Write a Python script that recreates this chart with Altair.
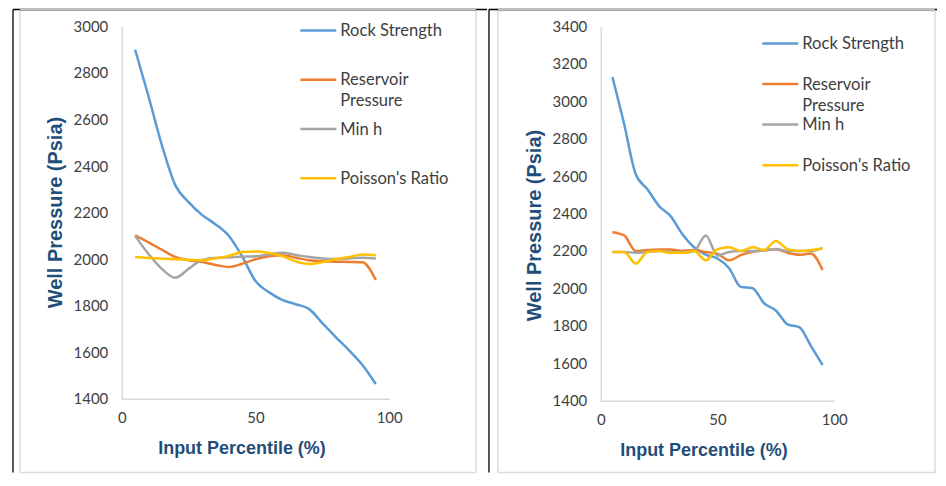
import altair as alt
import pandas as pd

# ---------------- data ----------------
percentile = [5, 10, 15, 20, 25, 30, 35, 40, 45, 50, 55, 60, 65, 70, 75, 80, 85, 90, 95]
series_names = ["Rock Strength", "Reservoir Pressure", "Min h", "Poisson's Ratio"]
legend_labels = ["Rock Strength", "Reservoir\nPressure", "Min h", "Poisson's Ratio"]
series_colors = ["#5B9BD5", "#ED7D31", "#A5A5A5", "#FFC000"]

# left chart
rock_left = [2900, 2700, 2490, 2318, 2245, 2190, 2150, 2100, 2012, 1906, 1858, 1825, 1806, 1786, 1725, 1665, 1608, 1545, 1463]
reservoir_left = [2102, 2072, 2040, 2009, 1995, 1987, 1975, 1966, 1980, 1999, 2012, 2017, 2006, 1995, 1991, 1989, 1988, 1986, 1910]
minh_left = [2100, 2022, 1958, 1920, 1958, 1996, 2005, 2007, 2010, 2012, 2020, 2027, 2018, 2009, 2003, 2000, 2003, 2006, 2003]
poisson_left = [2009, 2005, 2002, 1999, 1997, 1995, 2003, 2013, 2030, 2033, 2026, 2013, 1990, 1979, 1987, 1999, 2009, 2020, 2017]

# right chart
rock_right = [3130, 2880, 2610, 2530, 2440, 2385, 2290, 2220, 2180, 2160, 2108, 2008, 2001, 1920, 1882, 1808, 1793, 1693, 1590]
reservoir_right = [2300, 2283, 2200, 2205, 2208, 2208, 2200, 2205, 2195, 2185, 2150, 2178, 2196, 2203, 2209, 2190, 2180, 2186, 2098]
minh_right = [2195, 2195, 2190, 2195, 2200, 2195, 2190, 2200, 2283, 2175, 2195, 2200, 2200, 2205, 2210, 2200, 2200, 2200, 2215]
poisson_right = [2195, 2195, 2132, 2195, 2200, 2190, 2190, 2200, 2150, 2210, 2220, 2200, 2220, 2205, 2253, 2210, 2200, 2205, 2215]

x_ticks = [0, 50, 100]
y_ticks_left = [1400, 1600, 1800, 2000, 2200, 2400, 2600, 2800, 3000]
y_ticks_right = [1400, 1600, 1800, 2000, 2200, 2400, 2600, 2800, 3000, 3200, 3400]

x_title = "Input Percentile (%)"
y_title = "Well Pressure (Psia)"

FONT = "Lato"
TITLE_FONT = "Liberation Sans"
TEXT_COLOR = "#404040"


def long_df(series_lists):
    rows = []
    for name, vals in zip(series_names, series_lists):
        for p, v in zip(percentile, vals):
            rows.append({"percentile": p, "pressure": v, "series": name})
    return pd.DataFrame(rows)


color_scale = alt.Scale(domain=series_names, range=series_colors)
legend_df = pd.DataFrame({"series": series_names, "label": legend_labels})
deco_df = pd.DataFrame({"k": [0]})


def panel(df, ydom, yticks, w, h, leg_y, leg_x, title_x, ytitle_y, deco):
    lines = alt.Chart(df).mark_line(interpolate="monotone", strokeWidth=2.5).encode(
        x=alt.X("percentile:Q",
                scale=alt.Scale(domain=[0, 100], nice=False),
                axis=alt.Axis(values=x_ticks, title=x_title, labelFlush=False, format="d",
                              labelPadding=12, titleX=title_x, titleY=50,
                              titleBaseline="middle", titleFontSize=18)),
        y=alt.Y("pressure:Q",
                scale=alt.Scale(domain=ydom, nice=False, zero=False),
                axis=alt.Axis(values=yticks, title=y_title, labelPadding=14, format="d",
                              titleX=-66, titleY=ytitle_y, titleBaseline="middle",
                              titleFontSize=20)),
        color=alt.Color("series:N", scale=color_scale, legend=None),
    )
    ypos = alt.Y("series:N", axis=None,
                 scale=alt.Scale(type="point", domain=series_names,
                                 range=leg_y, padding=0))
    leg_rule = alt.Chart(legend_df).mark_rule(strokeWidth=2.5).encode(
        x=alt.value(leg_x[0]), x2=alt.value(leg_x[1]), y=ypos,
        color=alt.Color("series:N", scale=color_scale, legend=None),
    )
    leg_text = alt.Chart(legend_df).mark_text(
        align="left", baseline="alphabetic", dy=5.8, lineBreak="\n",
        lineHeight=21, font=FONT, fontSize=16.6, color=TEXT_COLOR,
    ).encode(x=alt.value(leg_x[1] + 4), y=ypos, text="label:N")

    bx, bx2, fx, fx2, top, bottom = deco
    frame = alt.Chart(deco_df).mark_rect(
        fillOpacity=0, stroke="#dcdcdc", strokeWidth=1.5
    ).encode(x=alt.value(fx), x2=alt.value(fx2), y=alt.value(top + 1), y2=alt.value(bottom))
    black_top = alt.Chart(deco_df).mark_rule(color="black", strokeWidth=1.3).encode(
        x=alt.value(bx), x2=alt.value(bx2), y=alt.value(top))
    gray_top = alt.Chart(deco_df).mark_rule(color="#bdbdbd", strokeWidth=1.5).encode(
        x=alt.value(fx), x2=alt.value(fx2), y=alt.value(top))
    black_side = alt.Chart(deco_df).mark_rule(color="black", strokeWidth=1.3).encode(
        x=alt.value(bx), y=alt.value(top), y2=alt.value(bottom))

    return alt.layer(frame, black_top, gray_top, black_side, lines, leg_rule, leg_text).resolve_scale(
        y="independent"
    ).properties(width=w, height=h)


left = panel(
    long_df([rock_left, reservoir_left, minh_left, poisson_left]),
    [1400, 3000], y_ticks_left, 268, 373,
    [4, 152], [179, 215], 120, 186,
    (-109, 366, -102, 355, -17, 447),
)
right = panel(
    long_df([rock_right, reservoir_right, minh_right, poisson_right]),
    [1400, 3400], y_ticks_right, 234, 375,
    [17, 139], [162, 198], 103, 199,
    (-112, 337, -103, 335, -17, 447),
)

chart = alt.hconcat(left, right, spacing=0).properties(
    padding={"left": 4, "top": 0, "right": 0, "bottom": 0}
).configure_axis(
    domainColor="#d9d9d9", domainWidth=1.5, ticks=False, tickSize=0, grid=False,
    labelFont=FONT, labelFontSize=15, labelColor=TEXT_COLOR,
    titleFont=TITLE_FONT, titleFontWeight="bold", titleColor="#1f4e79",
).configure_view(strokeWidth=0)

chart.save("out.html", embed_options={"renderer": "svg", "actions": False})
